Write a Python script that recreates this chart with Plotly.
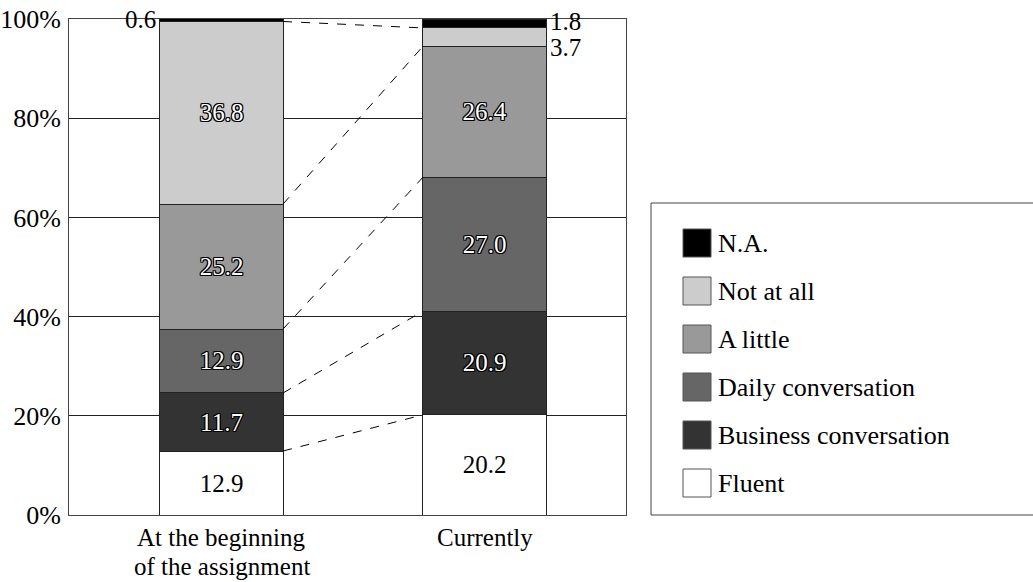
import plotly.graph_objects as go

# ---- data ----
categories = ["At the beginning<br>of the assignment", "Currently"]
series_names = ["Fluent", "Business conversation", "Daily conversation", "A little", "Not at all", "N.A."]
fluent = [12.9, 20.2]
business = [11.7, 20.9]
daily = [12.9, 27.0]
a_little = [25.2, 26.4]
not_at_all = [36.8, 3.7]
na = [0.6, 1.8]
y_ticks = [0, 20, 40, 60, 80, 100]

series_values = [fluent, business, daily, a_little, not_at_all, na]
colors = ["#ffffff", "#333333", "#666666", "#999999", "#cccccc", "#000000"]

FONT = "Liberation Serif, Times New Roman, serif"
FS = 25
BAR_W = 0.468
xpos = list(range(len(categories)))
outline = ("-1px -1px 0 #000, 1px -1px 0 #000, -1px 1px 0 #000, 1px 1px 0 #000, "
           "0 1px 0 #000, 0 -1px 0 #000, 1px 0 0 #000, -1px 0 0 #000")

fig = go.Figure()
for name, vals, col in zip(series_names, series_values, colors):
    texts = [f"{v:.1f}" if v >= 5 else "" for v in vals]
    is_white = col == "#ffffff"
    fig.add_trace(go.Bar(
        name=name, x=xpos, y=vals, width=BAR_W,
        marker=dict(color=col, line=dict(color="#222222", width=1)),
        text=texts, textposition="inside", insidetextanchor="middle",
        textangle=0, constraintext="none",
        textfont=dict(family=FONT, size=FS,
                      color="#000000" if is_white else "#ffffff",
                      shadow="none" if is_white else outline),
        showlegend=False,
    ))

# cumulative boundaries for connector lines
cum = [[0.0, 0.0]]
for vals in series_values:
    cum.append([cum[-1][j] + vals[j] for j in range(2)])

shapes = []
for level in cum[1:-1]:
    shapes.append(dict(type="line", xref="x", yref="y",
                       x0=xpos[0] + BAR_W / 2, x1=xpos[1] - BAR_W / 2,
                       y0=level[0], y1=level[1],
                       line=dict(color="#000000", width=1, dash="dash")))

annotations = []
# small outside labels
annotations.append(dict(x=xpos[0] - BAR_W / 2, y=cum[5][0] + na[0] / 2, xref="x", yref="y",
                        text=f"{na[0]:.1f}", showarrow=False, xanchor="right", xshift=-2,
                        font=dict(family=FONT, size=FS, color="#000")))
annotations.append(dict(x=xpos[1] + BAR_W / 2, y=cum[5][1] + na[1] / 2, xref="x", yref="y",
                        text=f"{na[1]:.1f}", showarrow=False, xanchor="left", xshift=2,
                        yshift=2, font=dict(family=FONT, size=FS, color="#000")))
annotations.append(dict(x=xpos[1] + BAR_W / 2, y=cum[4][1] + not_at_all[1] / 2, xref="x", yref="y",
                        text=f"{not_at_all[1]:.1f}", showarrow=False, xanchor="left", xshift=2,
                        yshift=-10, font=dict(family=FONT, size=FS, color="#000")))

# geometry helpers (paper coordinates from pixel layout)
PLOT_L, PLOT_R, PLOT_T, PLOT_B = 69, 626, 19, 515
pw, ph = PLOT_R - PLOT_L, PLOT_B - PLOT_T
def px_x(px):
    return (px - PLOT_L) / pw
def px_y(py):
    return (PLOT_B - py) / ph

# category labels (one annotation per line for tighter line spacing)
for xi, cat in zip(xpos, categories):
    for li, line in enumerate(cat.split("<br>")):
        annotations.append(dict(x=xi, y=px_y(537 + 29 * li), xref="x", yref="paper",
                                text=line, showarrow=False, xanchor="center", yanchor="middle",
                                font=dict(family=FONT, size=FS, color="#000")))

# manual legend
shapes.append(dict(type="rect", xref="paper", yref="paper",
                   x0=px_x(651), x1=px_x(1045), y0=px_y(515), y1=px_y(203),
                   line=dict(color="#444444", width=1), fillcolor="rgba(0,0,0,0)"))
legend_order = list(zip(series_names, colors))[::-1]
for i, (name, col) in enumerate(legend_order):
    cy = 243 + 48 * i
    shapes.append(dict(type="rect", xref="paper", yref="paper",
                       x0=px_x(683), x1=px_x(711), y0=px_y(cy + 14), y1=px_y(cy - 14),
                       line=dict(color="#555555", width=1), fillcolor=col))
    annotations.append(dict(x=px_x(716), y=px_y(cy), xref="paper", yref="paper",
                            text=name, showarrow=False, xanchor="left", yanchor="middle",
                            font=dict(family=FONT, size=26, color="#000")))

fig.update_layout(
    barmode="stack",
    width=1033, height=582,
    margin=dict(l=PLOT_L, r=1033 - PLOT_R, t=PLOT_T, b=582 - PLOT_B, autoexpand=False),
    paper_bgcolor="#ffffff", plot_bgcolor="#ffffff",
    font=dict(family=FONT, size=FS, color="#000"),
    shapes=shapes, annotations=annotations,
    xaxis=dict(range=[-0.580, 1.538], tickvals=xpos, showticklabels=False,
               showgrid=False, zeroline=False, showline=True, mirror=True,
               linecolor="#444444", linewidth=1, ticks="", automargin=False),
    yaxis=dict(range=[0, 100], tickmode="array", tickvals=y_ticks,
               ticktext=[f"{v}%" for v in y_ticks],
               showgrid=True, gridcolor="#222222", gridwidth=1, zeroline=False,
               showline=True, mirror=True, linecolor="#444444", linewidth=1,
               ticks="", automargin=False, ticklabelstandoff=2,
               tickfont=dict(family=FONT, size=26, color="#000")),
)

fig.write_html("out.html")
